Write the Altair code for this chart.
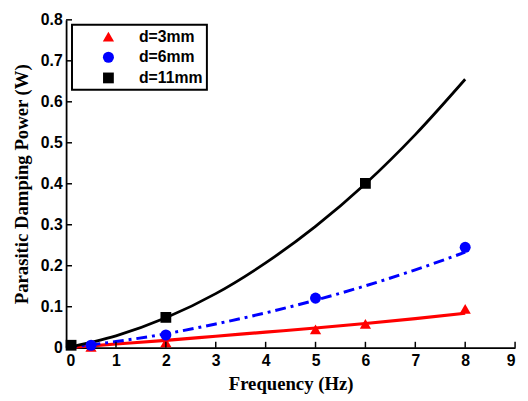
import altair as alt
import pandas as pd

# ---- data ----
series_names = ["d=3mm", "d=6mm", "d=11mm"]
series_colors = ["#ff0000", "#0000ff", "#000000"]
series_shapes = ["triangle-up", "circle", "square"]

# fitted curves
curve_freq = [0, 1, 2, 3, 4, 5, 6, 7, 8]
curve_p3 = [0.0, 0.009, 0.018, 0.028, 0.038, 0.048, 0.059, 0.071, 0.084]
curve_p6 = [0.0, 0.015, 0.034, 0.058, 0.085, 0.116, 0.151, 0.19, 0.233]
curve_p11 = [0.0, 0.029, 0.073, 0.132, 0.207, 0.296, 0.40, 0.52, 0.655]

# measured points
pt3_freq = [0.5, 2, 5, 6, 8]
pt3_pow = [0.002, 0.013, 0.045, 0.058, 0.095]
pt6_freq = [0.5, 2, 5, 8]
pt6_pow = [0.006, 0.031, 0.121, 0.245]
pt11_freq = [0.1, 2, 6]
pt11_pow = [0.006, 0.074, 0.401]

x_ticks = [0, 1, 2, 3, 4, 5, 6, 7, 8, 9]
y_ticks = [0, 0.1, 0.2, 0.3, 0.4, 0.5, 0.6, 0.7, 0.8]

W, H = 456, 333

xscale = alt.Scale(domain=[0, 9], nice=False)
yscale = alt.Scale(domain=[0, 0.8], nice=False)

curves = {
    "d=3mm": curve_p3,
    "d=6mm": curve_p6,
    "d=11mm": curve_p11,
}
pts = pd.concat([
    pd.DataFrame({"f": pt3_freq, "p": pt3_pow, "s": "d=3mm"}),
    pd.DataFrame({"f": pt6_freq, "p": pt6_pow, "s": "d=6mm"}),
    pd.DataFrame({"f": pt11_freq, "p": pt11_pow, "s": "d=11mm"}),
])

xenc = alt.X("f:Q", scale=xscale,
             axis=alt.Axis(values=x_ticks, format="d", title="Frequency (Hz)",
                           titlePadding=6, labelPadding=5))
yenc = alt.Y("p:Q", scale=yscale,
             axis=alt.Axis(values=y_ticks, format=".1~f", title="Parasitic Damping Power (W)",
                           titlePadding=9, labelPadding=4))

line_styles = {
    "d=3mm": dict(color="#ff0000", strokeWidth=3.2),
    "d=6mm": dict(color="#0000ff", strokeWidth=3, strokeDash=[11, 5, 3, 5]),
    "d=11mm": dict(color="#000000", strokeWidth=2.8),
}

layers = []
for name in series_names:
    df = pd.DataFrame({"f": curve_freq, "p": curves[name]})
    layers.append(
        alt.Chart(df).mark_line(interpolate="monotone", **line_styles[name])
        .encode(x=xenc, y=yenc)
    )

legend_kw = dict(title=" ", titleOrient="left", titlePadding=25,
                 orient="none", legendX=6, legendY=5, labelOffset=23)
points = alt.Chart(pts).mark_point(filled=True, opacity=1, strokeWidth=0).encode(
    x=alt.X("f:Q", scale=xscale),
    y=alt.Y("p:Q", scale=yscale),
    color=alt.Color("s:N", scale=alt.Scale(domain=series_names, range=series_colors),
                    legend=alt.Legend(**legend_kw)),
    shape=alt.Shape("s:N", scale=alt.Scale(domain=series_names, range=series_shapes),
                    legend=alt.Legend(**legend_kw)),
    size=alt.Size("s:N", scale=alt.Scale(domain=series_names, range=[130, 120, 95]),
                  legend=None),
)

# inward tick marks
xt = alt.Chart(pd.DataFrame({"f": x_ticks[1:]})).mark_rule(color="black", strokeWidth=1.5).encode(
    x=alt.X("f:Q", scale=xscale), y=alt.value(H), y2=alt.value(H - 6))
yt = alt.Chart(pd.DataFrame({"p": y_ticks[1:]})).mark_rule(color="black", strokeWidth=1.5).encode(
    y=alt.Y("p:Q", scale=yscale), x=alt.value(0), x2=alt.value(6))

chart = alt.layer(*layers, points, xt, yt).properties(
    width=W, height=H,
    autosize=alt.AutoSizeParams(type="none"),
    padding={"left": 59, "top": 9, "right": 5, "bottom": 45},
).configure_view(stroke=None).configure_axis(
    grid=False, ticks=False, tickSize=0,
    domainColor="black", domainWidth=1.8,
    labelFont="Liberation Sans", labelFontWeight="bold", labelFontSize=16, labelColor="black",
    titleFont="Liberation Serif", titleFontWeight="bold", titleFontSize=19, titleColor="black",
).configure_legend(
    strokeColor="black", strokeWidth=2, fillColor="white", padding=4,
    symbolSize=120, rowPadding=5,
    titleFont="Liberation Sans", titleFontSize=16,
    labelFont="Liberation Sans", labelFontWeight="bold", labelFontSize=16, labelColor="black",
    symbolStrokeWidth=0,
)

chart.save("out.html", embed_options={"renderer": "svg", "actions": False})
